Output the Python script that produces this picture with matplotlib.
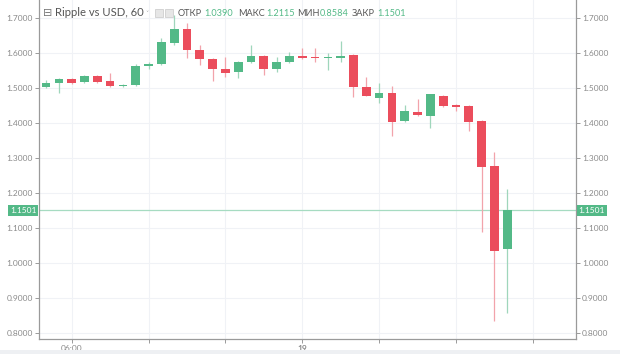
import matplotlib.pyplot as plt

plt.rcParams['font.family'] = ['Lato', 'DejaVu Sans']

# hourly candles, Ripple vs USD (60 min)
opens = [1.504, 1.513, 1.525, 1.518, 1.535, 1.520, 1.505, 1.508, 1.563, 1.569,
         1.629, 1.669, 1.609, 1.582, 1.553, 1.545, 1.575, 1.591, 1.554, 1.575,
         1.591, 1.589, 1.587, 1.585, 1.594, 1.504, 1.472, 1.485, 1.406, 1.432,
         1.421, 1.478, 1.451, 1.449, 1.407, 1.277, 1.0390]
highs = [1.524, 1.528, 1.528, 1.538, 1.537, 1.544, 1.511, 1.569, 1.575, 1.643,
         1.709, 1.686, 1.623, 1.585, 1.589, 1.578, 1.623, 1.594, 1.589, 1.604,
         1.614, 1.614, 1.600, 1.635, 1.596, 1.532, 1.514, 1.506, 1.451, 1.468,
         1.484, 1.480, 1.453, 1.451, 1.409, 1.318, 1.2115]
lows = [1.500, 1.487, 1.512, 1.515, 1.515, 1.503, 1.503, 1.505, 1.555, 1.566,
        1.624, 1.586, 1.566, 1.521, 1.531, 1.529, 1.570, 1.537, 1.545, 1.570,
        1.583, 1.575, 1.551, 1.575, 1.474, 1.476, 1.457, 1.363, 1.404, 1.420,
        1.385, 1.446, 1.435, 1.378, 1.089, 0.835, 0.8584]
closes = [1.515, 1.525, 1.515, 1.535, 1.518, 1.506, 1.509, 1.563, 1.569, 1.632,
          1.668, 1.609, 1.583, 1.553, 1.544, 1.575, 1.591, 1.554, 1.574, 1.591,
          1.585, 1.585, 1.588, 1.592, 1.504, 1.478, 1.485, 1.402, 1.434, 1.423,
          1.482, 1.449, 1.447, 1.402, 1.275, 1.035, 1.1501]

time_ticks = [2, 8, 14, 20, 26, 32, 38]
time_labels = ['06:00', '', '', '19', '', '', '']
price_ticks = [0.8, 0.9, 1.0, 1.1, 1.2, 1.3, 1.4, 1.5, 1.6, 1.7]
last_price = 1.1501

up = '#53b987'
down = '#eb4d5c'
up_wick = '#9fd6bb'
down_wick = '#f2a3ab'

fig = plt.figure(figsize=(6.2, 3.54), dpi=100)
ax = fig.add_axes([39 / 620, 1 - 339 / 354, 537 / 620, 339 / 354])

for i, (o, h, l, c) in enumerate(zip(opens, highs, lows, closes)):
    rising = c >= o
    ax.vlines(i, l, h, color=up_wick if rising else down_wick, lw=0.9, zorder=2)
    ax.bar(i, max(abs(c - o), 0.0015), bottom=min(o, c), width=0.68,
           color=up if rising else down, zorder=3, linewidth=0)

ax.axhline(last_price, color='#a6dbc1', lw=0.9, zorder=1)

ax.set_xlim(-0.55, 41.37)
ax.set_ylim(0.7829, 1.7514)
ax.set_xticks(time_ticks)
ax.set_xticklabels(time_labels)
for lab in ax.get_xticklabels():
    if lab.get_text() == '19':
        lab.set_fontweight('bold')
        lab.set_color('#333333')
ax.set_yticks(price_ticks)
ax.set_yticklabels(['{:.4f}'.format(p) for p in price_ticks])

ax.grid(True, color='#f0f2f6', lw=0.8, zorder=0)
ax.set_axisbelow(True)
for side in ['left', 'right', 'bottom']:
    ax.spines[side].set_color('#9a9a9a')
    ax.spines[side].set_linewidth(0.9)
ax.spines['top'].set_visible(False)
ax.tick_params(axis='y', left=True, right=True, labelleft=True, labelright=True,
               labelsize=6, labelcolor='#8a8a8a', color='#9a9a9a',
               length=3, width=0.7, pad=1.5)
ax.tick_params(axis='x', labelsize=6, labelcolor='#8a8a8a', color='#9a9a9a',
               length=3, width=0.7, pad=1)

# price badges on both scales
badge = dict(boxstyle='square,pad=0.25', fc=up, ec='none')
ax.text(-0.005, last_price, '1.1501', transform=ax.get_yaxis_transform(),
        ha='right', va='center', fontsize=6, color='white', bbox=badge)
ax.text(1.005, last_price, '1.1501', transform=ax.get_yaxis_transform(),
        ha='left', va='center', fontsize=6, color='white', bbox=badge)


# legend header
def px(x, y):
    return x / 620, 1 - y / 354


fig.text(*px(43, 13), '\u229f', fontsize=8, color='#777777', va='center',
         family='DejaVu Sans')
fig.text(*px(55, 13), 'Ripple vs USD, 60', fontsize=8.1, color='#555555', va='center')
fig.text(*px(145, 13), '\u02c5', fontsize=4.5, color='#aaaaaa', va='center',
         family='DejaVu Sans')
for bx in [155, 165]:
    fig.patches.append(plt.Rectangle(px(bx, 17), 8 / 620, 8 / 354, transform=fig.transFigure,
                                     fc='#e6e6e6', ec='#cfcfcf', lw=0.6))
header = [(178, 'ОТКР', '#555555'), (204, '1.0390', up),
          (238, 'МАКС', '#555555'), (266, '1.2115', up),
          (297, 'МИН', '#555555'), (320, '0.8584', up),
          (352, 'ЗАКР', '#555555'), (377, '1.1501', up)]
for x, s, col in header:
    fig.text(*px(x, 13.5), s, fontsize=6.6, color=col, va='center')

fig.patches.append(plt.Rectangle((0, 0), 1, 4 / 354, transform=fig.transFigure,
                                 fc='#eef0f3', ec='none'))

fig.savefig('out.png', dpi=100)
